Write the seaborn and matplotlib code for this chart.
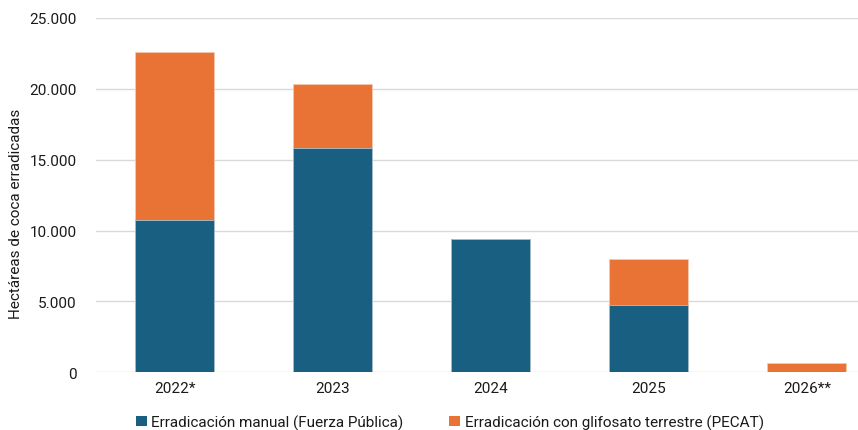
import matplotlib
matplotlib.use("Agg")
import matplotlib.pyplot as plt
import seaborn as sns
import pandas as pd
from matplotlib.patches import Patch
from matplotlib.ticker import FuncFormatter

years = ["2022*", "2023", "2024", "2025", "2026**"]
manual = [10780, 15820, 9390, 4730, 0]
glifosato = [11820, 4520, 0, 3290, 660]
labels = ["Erradicación manual (Fuerza Pública)", "Erradicación con glifosato terrestre (PECAT)"]

BLUE = "#185F82"
ORANGE = "#E97335"

sns.set_theme(style="white")
plt.rcParams["font.family"] = ["Roboto", "DejaVu Sans"]

df = pd.DataFrame({"year": years, "manual": manual, "glifosato": glifosato})
df["total"] = df["manual"] + df["glifosato"]

fig = plt.figure(figsize=(8.58, 4.31), dpi=100)
ax = fig.add_axes([96/858, (431-373.3)/431, (886-96)/858, (373.3-19)/431])

sns.barplot(data=df, x="year", y="total", color=ORANGE, width=0.5, saturation=1,
            edgecolor="#F3C9B0", linewidth=0.6, ax=ax)
sns.barplot(data=df, x="year", y="manual", color=BLUE, width=0.5, saturation=1,
            edgecolor="#A9C2D0", linewidth=0.6, ax=ax)

ax.set_ylim(0, 25000)
ax.set_xlim(-0.497, 4.5)
ax.set_yticks(range(0, 25001, 5000))
ax.yaxis.set_major_formatter(FuncFormatter(lambda v, p: f"{int(v):,}".replace(",", ".")))
ax.grid(axis="y", color="#D9D9D9", linewidth=1)
ax.set_axisbelow(True)
for s in ax.spines.values():
    s.set_visible(False)
ax.tick_params(axis="both", length=0, labelsize=11, colors="#1a1a1a")
ax.tick_params(axis="y", pad=14)
ax.tick_params(axis="x", pad=6)
ax.set_xlabel("")
ax.set_ylabel("Hectáreas de coca erradicadas", fontsize=11, color="#1a1a1a")
ax.yaxis.set_label_coords(-0.0924, 0.45)

handles = [Patch(facecolor=BLUE, edgecolor="none"), Patch(facecolor=ORANGE, edgecolor="none")]
fig.legend(handles, labels, loc="center", bbox_to_anchor=(450/858, 1-423/431), ncol=2,
           frameon=False, fontsize=11, handlelength=0.7, handleheight=0.7,
           handletextpad=0.3, columnspacing=3.0, labelcolor="#1a1a1a")

fig.savefig("out.png", dpi=100)
